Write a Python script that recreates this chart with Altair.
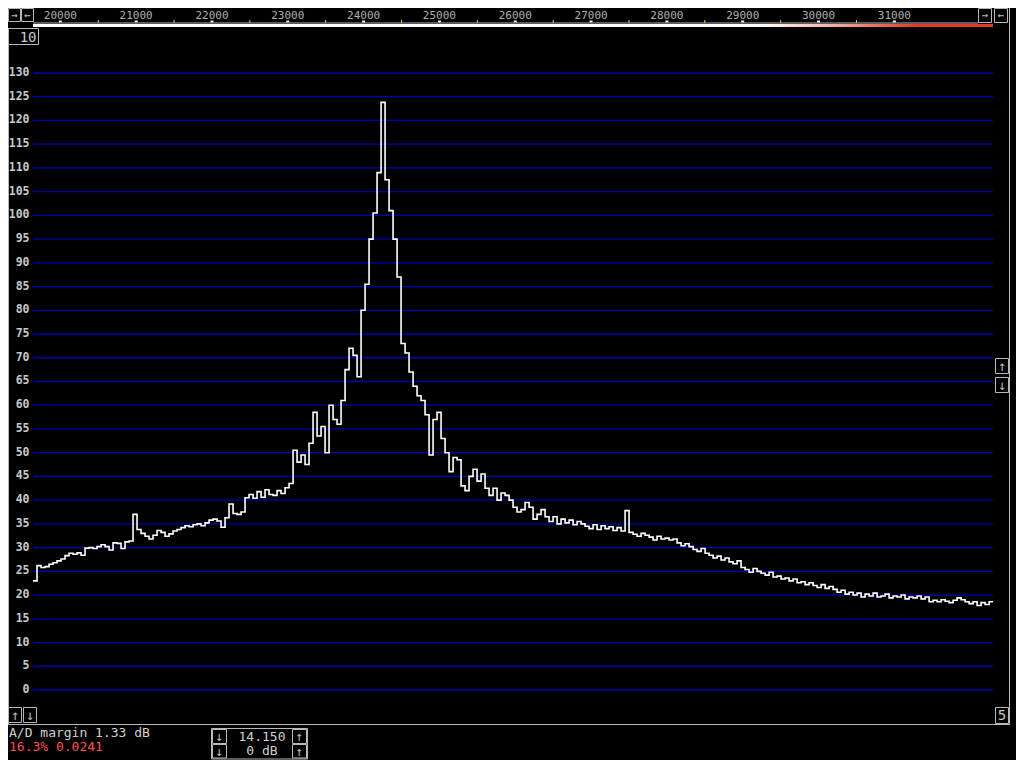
import altair as alt
import pandas as pd

# ---------------- data ----------------
F_START = 19640.0      # Hz, first spectrum bin
BIN_HZ = 52.76         # Hz per bin
LEVEL_DB = [
    23.0, 26.2, 25.8, 26.0, 26.5, 26.8, 27.2, 27.6, 28.3, 28.8,
    28.6, 28.9, 28.4, 29.9, 30.0, 29.8, 30.2, 30.6, 30.2, 29.5,
    31.0, 30.9, 29.8, 31.2, 31.4, 37.0, 33.8, 33.0, 32.4, 31.8,
    32.6, 33.6, 33.2, 32.4, 32.9, 33.5, 33.8, 34.2, 34.6, 34.4,
    34.8, 35.0, 34.6, 35.2, 35.8, 36.0, 35.6, 34.3, 36.3, 39.2,
    37.2, 37.0, 37.5, 40.5, 41.2, 40.4, 41.8, 40.6, 42.2, 41.2,
    41.0, 42.0, 41.4, 42.6, 43.5, 50.5, 48.0, 49.5, 47.5, 52.0,
    58.5, 53.5, 55.5, 50.0, 60.0, 57.0, 56.0, 61.0, 67.5, 72.0,
    70.5, 66.0, 80.0, 85.5, 95.0, 100.5, 109.0, 123.8, 107.5, 101.0,
    95.0, 87.0, 73.0, 71.0, 67.0, 64.0, 62.0, 61.0, 58.0, 49.5,
    57.0, 58.5, 53.0, 50.0, 46.0, 49.0, 48.5, 43.0, 42.0, 45.0,
    46.5, 44.0, 45.5, 42.5, 41.0, 42.5, 40.0, 41.5, 41.0, 40.0,
    38.5, 37.5, 38.0, 39.5, 38.5, 36.0, 37.0, 38.0, 36.5, 35.5,
    36.5, 35.0, 36.0, 35.2, 35.8, 34.8, 35.5, 35.0, 34.5, 34.0,
    34.8, 33.8, 34.6, 34.0, 34.4, 33.6, 34.2, 33.5, 37.8, 33.2,
    32.8, 32.4, 33.0, 32.6, 32.2, 31.6, 32.4, 31.8, 32.0, 31.6,
    31.8, 31.0, 30.4, 30.8, 30.2, 29.6, 29.2, 29.8, 28.8, 28.4,
    27.8, 28.2, 27.4, 27.8, 27.0, 26.6, 27.2, 25.8, 25.4, 24.8,
    25.6, 25.0, 24.6, 24.2, 24.8, 23.8, 24.0, 23.4, 23.6, 23.0,
    23.4, 22.6, 22.8, 22.2, 22.6, 22.0, 21.6, 22.2, 21.4, 21.8,
    21.2, 20.6, 21.0, 20.2, 20.6, 20.0, 20.4, 19.6, 20.2, 19.8,
    20.4, 19.6, 19.8, 20.2, 19.4, 19.8, 19.6, 20.0, 19.2, 19.6,
    19.4, 19.8, 19.2, 19.6, 18.6, 18.9, 18.6, 19.0, 18.7, 18.4,
    18.9, 19.4, 19.0, 18.6, 18.2, 18.6, 17.8, 18.4, 18.0, 18.6,
]
GRID_LEVELS = list(range(0, 135, 5))
FREQ_LABELS = list(range(20000, 32000, 1000))
HALF_TICKS = list(range(20500, 31000, 1000))
STATUS_LINE_1 = "A/D margin 1.33 dB"
STATUS_LINE_2 = "16.3% 0.0241"
BOX_VALUE_1 = "14.150"
BOX_VALUE_2 = "0 dB"
ZOOM_LABEL = "10"
AVG_LABEL = "5"

# ---------------- layout (pixels, chart coords) ----------------
W, H = 1008, 752
X_DOMAIN = [19309.8, 32604.4]
Y_DOMAIN = [-14.75, 143.69]
GRID_X0, GRID_X1 = 25, 985
FONT = "DejaVu Sans Mono"
GRAY = "#b8b8b8"
BLUE = "#0000b4"

xs = alt.Scale(domain=X_DOMAIN, nice=False, zero=False)
ys = alt.Scale(domain=Y_DOMAIN, nice=False, zero=False)

spec_freq = [F_START + i * BIN_HZ for i in range(len(LEVEL_DB) + 1)]
spec_lvl = LEVEL_DB + [LEVEL_DB[-1]]
spec_df = pd.DataFrame({"freq": spec_freq, "level": spec_lvl})
grid_df = pd.DataFrame({"level": GRID_LEVELS})
flab_df = pd.DataFrame({"freq": FREQ_LABELS, "label": [str(f) for f in FREQ_LABELS]})
half_df = pd.DataFrame({"freq": HALF_TICKS})

grid = alt.Chart(grid_df).mark_rule(color=BLUE, strokeWidth=1.3).encode(
    y=alt.Y("level:Q", scale=ys, axis=None),
    x=alt.value(GRID_X0), x2=alt.value(GRID_X1))

ylabels = alt.Chart(grid_df).mark_text(
    font=FONT, fontSize=11.5, fontWeight="bold", color="#c8c8c8",
    align="right", baseline="middle"
).encode(y=alt.Y("level:Q", scale=ys, axis=None), x=alt.value(21.5),
         text=alt.Text("level:Q"))

line = alt.Chart(spec_df).mark_line(
    color="white", strokeWidth=1.6, interpolate="step-after"
).encode(x=alt.X("freq:Q", scale=xs, axis=None),
         y=alt.Y("level:Q", scale=ys, axis=None))

toplabels = alt.Chart(flab_df).mark_text(
    font=FONT, fontSize=11, color="#b0b0b0", align="center", baseline="top"
).encode(x=alt.X("freq:Q", scale=xs, axis=None), y=alt.value(1.5), text="label:N")

wticks = alt.Chart(flab_df).mark_rule(color="white", strokeWidth=3).encode(
    x=alt.X("freq:Q", scale=xs, axis=None), y=alt.value(12.5), y2=alt.value(14.5))

yticks = alt.Chart(half_df).mark_rule(color="#e8e800", strokeWidth=1).encode(
    x=alt.X("freq:Q", scale=xs, axis=None), y=alt.value(12), y2=alt.value(15))

one = pd.DataFrame({"k": [0]})
topline = alt.Chart(one).mark_rule(color=GRAY, strokeWidth=1).encode(
    x=alt.value(GRID_X0), x2=alt.value(970), y=alt.value(15))

bar = alt.Chart(one).mark_rect(
    fill=alt.LinearGradient(
        gradient="linear", x1=0, x2=1, y1=0, y2=0,
        stops=[alt.GradientStop(color="#ffffff", offset=0),
               alt.GradientStop(color="#ffffff", offset=0.76),
               alt.GradientStop(color="#f3a79c", offset=0.84),
               alt.GradientStop(color="#e8381f", offset=0.92),
               alt.GradientStop(color="#e8381f", offset=1)])
).encode(x=alt.value(GRID_X0), x2=alt.value(GRID_X1), y=alt.value(16), y2=alt.value(19))

# frame segments
seg_df = pd.DataFrame([
    {"x": 0.5, "x2": 0.5, "y": 20, "y2": 716.5},
    {"x": 0, "x2": 1001.5, "y": 716.5, "y2": 716.5},
    {"x": 1001.5, "x2": 1001.5, "y": 0, "y2": 716.5},
])
frame = alt.Chart(seg_df).mark_rule(color=GRAY, strokeWidth=1).encode(
    x=alt.X("x:Q", scale=None), x2="x2:Q", y=alt.Y("y:Q", scale=None), y2="y2:Q")

boxes_df = pd.DataFrame([
    {"x": 0.5, "x2": 12.5, "y": 0.5, "y2": 13.5, "t": "→", "s": 11},
    {"x": 13.5, "x2": 25.5, "y": 0.5, "y2": 13.5, "t": "←", "s": 11},
    {"x": 970.5, "x2": 983.5, "y": 0.5, "y2": 14.5, "t": "→", "s": 11},
    {"x": 986.5, "x2": 999.5, "y": 0.5, "y2": 14.5, "t": "←", "s": 11},
    {"x": 0.5, "x2": 30.5, "y": 20.5, "y2": 36.5, "t": "", "s": 11},
    {"x": 987.5, "x2": 1000.5, "y": 350.5, "y2": 365.5, "t": "↑", "s": 14},
    {"x": 987.5, "x2": 1000.5, "y": 369.5, "y2": 384.5, "t": "↓", "s": 14},
    {"x": 0.5, "x2": 13.5, "y": 699.5, "y2": 714.5, "t": "↑", "s": 14},
    {"x": 15.5, "x2": 28.5, "y": 699.5, "y2": 714.5, "t": "↓", "s": 14},
    {"x": 987.5, "x2": 1000.5, "y": 699.5, "y2": 715.5, "t": "", "s": 14},
    {"x": 203.5, "x2": 299.5, "y": 720.5, "y2": 751, "t": "", "s": 14},
    {"x": 204.5, "x2": 218.5, "y": 721.5, "y2": 735.5, "t": "↓", "s": 13},
    {"x": 284.5, "x2": 298.5, "y": 721.5, "y2": 735.5, "t": "↑", "s": 13},
    {"x": 204.5, "x2": 218.5, "y": 736.5, "y2": 750, "t": "↓", "s": 13},
    {"x": 284.5, "x2": 298.5, "y": 736.5, "y2": 750, "t": "↑", "s": 13},
])
boxes_df["xc"] = (boxes_df["x"] + boxes_df["x2"]) / 2
boxes_df["yc"] = (boxes_df["y"] + boxes_df["y2"]) / 2 + 0.5
boxes = alt.Chart(boxes_df).mark_rect(filled=False, stroke=GRAY, strokeWidth=1).encode(
    x=alt.X("x:Q", scale=None), x2="x2:Q", y=alt.Y("y:Q", scale=None), y2="y2:Q")
glyphs = alt.Chart(boxes_df).mark_text(
    font=FONT, color=GRAY, align="center", baseline="middle"
).encode(x=alt.X("xc:Q", scale=None), y=alt.Y("yc:Q", scale=None), text="t:N",
         size=alt.Size("s:Q", scale=None, legend=None))

txt_df = pd.DataFrame([
    {"x": 28.5, "y": 34, "t": ZOOM_LABEL, "c": "#c8c8c8", "a": "right", "s": 14},
    {"x": 994, "y": 712, "t": AVG_LABEL, "c": "#c8c8c8", "a": "center", "s": 14},
    {"x": 1, "y": 729, "t": STATUS_LINE_1, "c": "#d0d0d0", "a": "left", "s": 13},
    {"x": 1, "y": 743, "t": STATUS_LINE_2, "c": "#ff5050", "a": "left", "s": 13},
    {"x": 254, "y": 732.5, "t": BOX_VALUE_1, "c": "#d0d0d0", "a": "center", "s": 13},
    {"x": 254, "y": 747, "t": BOX_VALUE_2, "c": "#d0d0d0", "a": "center", "s": 13},
])
texts = []
for _, r in txt_df.iterrows():
    texts.append(alt.Chart(pd.DataFrame([r])).mark_text(
        font=FONT, fontSize=int(r["s"]), color=r["c"], align=r["a"], baseline="alphabetic"
    ).encode(x=alt.X("x:Q", scale=None), y=alt.Y("y:Q", scale=None), text="t:N"))

chart = alt.layer(
    grid, ylabels, line, toplabels, wticks, yticks, topline, bar,
    frame, boxes, glyphs, *texts
).properties(
    width=W, height=H, padding=0, autosize="none", background="black"
).configure_view(strokeWidth=0)

chart.save("out.html", embed_options={"renderer": "svg", "actions": False})
